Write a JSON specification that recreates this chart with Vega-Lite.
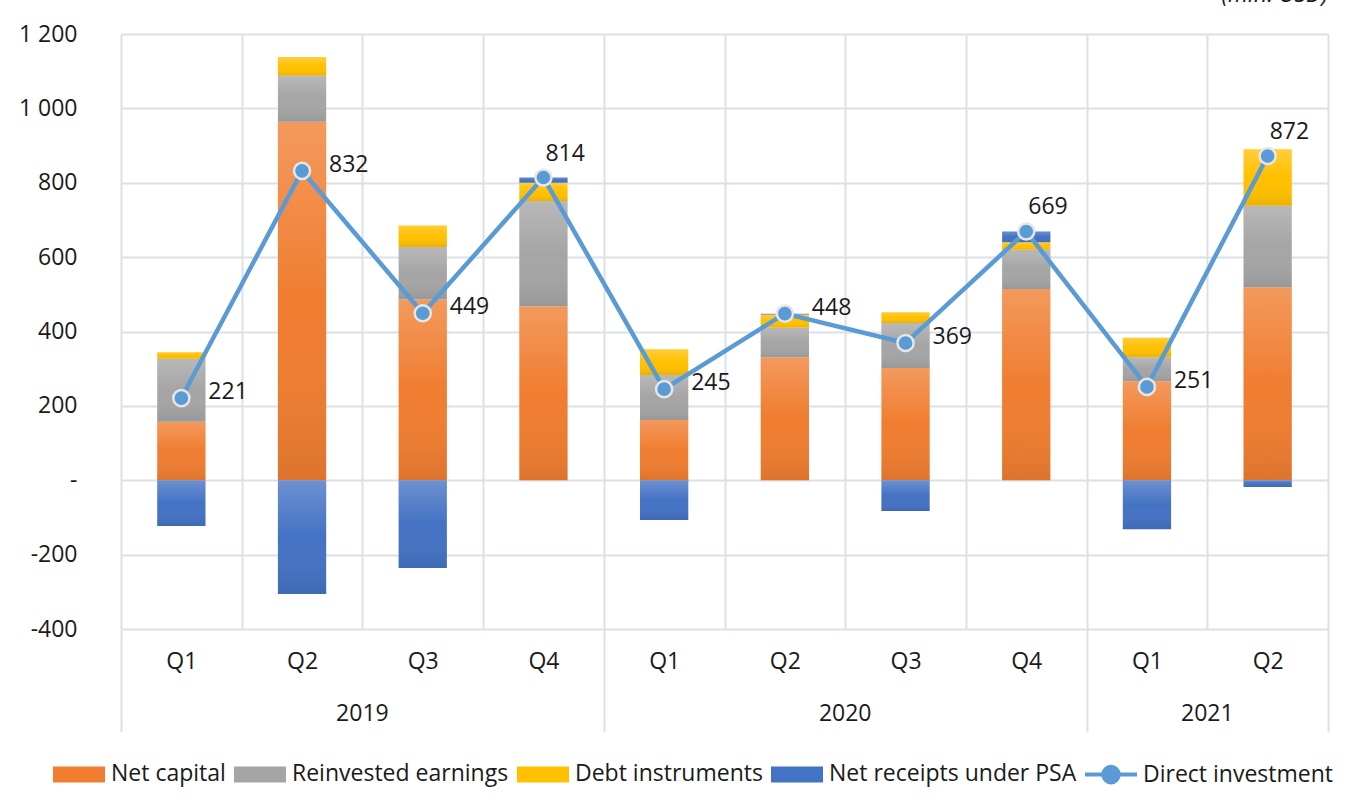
{
  "$schema": "https://vega.github.io/schema/vega-lite/v6.json",
  "width": 1207,
  "height": 595,
  "autosize": {"type": "none"},
  "padding": {"left": 121, "top": 34, "right": 40, "bottom": 182},
  "background": "white",
  "title": {
    "text": "(mln. USD)",
    "anchor": "end",
    "frame": "group",
    "font": "Open Sans",
    "fontSize": 23,
    "fontStyle": "italic",
    "fontWeight": "normal",
    "color": "#1a1a1a",
    "baseline": "alphabetic",
    "offset": 15,
    "dy": 17
  },
  "config": {
    "font": "Open Sans",
    "view": {"stroke": null}
  },
  "datasets": {
    "parts": [
      {"period": "2019 Q1", "component": "Net capital", "value": 157},
      {"period": "2019 Q1", "component": "Reinvested earnings", "value": 170},
      {"period": "2019 Q1", "component": "Debt instruments", "value": 17},
      {"period": "2019 Q1", "component": "Net receipts under PSA", "value": -123},
      {"period": "2019 Q2", "component": "Net capital", "value": 964},
      {"period": "2019 Q2", "component": "Reinvested earnings", "value": 124},
      {"period": "2019 Q2", "component": "Debt instruments", "value": 50},
      {"period": "2019 Q2", "component": "Net receipts under PSA", "value": -306},
      {"period": "2019 Q3", "component": "Net capital", "value": 486},
      {"period": "2019 Q3", "component": "Reinvested earnings", "value": 141},
      {"period": "2019 Q3", "component": "Debt instruments", "value": 58},
      {"period": "2019 Q3", "component": "Net receipts under PSA", "value": -236},
      {"period": "2019 Q4", "component": "Net capital", "value": 468},
      {"period": "2019 Q4", "component": "Reinvested earnings", "value": 283},
      {"period": "2019 Q4", "component": "Debt instruments", "value": 49},
      {"period": "2019 Q4", "component": "Net receipts under PSA", "value": 14},
      {"period": "2020 Q1", "component": "Net capital", "value": 162},
      {"period": "2020 Q1", "component": "Reinvested earnings", "value": 121},
      {"period": "2020 Q1", "component": "Debt instruments", "value": 69},
      {"period": "2020 Q1", "component": "Net receipts under PSA", "value": -107},
      {"period": "2020 Q2", "component": "Net capital", "value": 331},
      {"period": "2020 Q2", "component": "Reinvested earnings", "value": 79},
      {"period": "2020 Q2", "component": "Debt instruments", "value": 36},
      {"period": "2020 Q2", "component": "Net receipts under PSA", "value": 2},
      {"period": "2020 Q3", "component": "Net capital", "value": 302},
      {"period": "2020 Q3", "component": "Reinvested earnings", "value": 121},
      {"period": "2020 Q3", "component": "Debt instruments", "value": 29},
      {"period": "2020 Q3", "component": "Net receipts under PSA", "value": -83},
      {"period": "2020 Q4", "component": "Net capital", "value": 514},
      {"period": "2020 Q4", "component": "Reinvested earnings", "value": 106},
      {"period": "2020 Q4", "component": "Debt instruments", "value": 20},
      {"period": "2020 Q4", "component": "Net receipts under PSA", "value": 29},
      {"period": "2021 Q1", "component": "Net capital", "value": 266},
      {"period": "2021 Q1", "component": "Reinvested earnings", "value": 65},
      {"period": "2021 Q1", "component": "Debt instruments", "value": 52},
      {"period": "2021 Q1", "component": "Net receipts under PSA", "value": -132},
      {"period": "2021 Q2", "component": "Net capital", "value": 519},
      {"period": "2021 Q2", "component": "Reinvested earnings", "value": 219},
      {"period": "2021 Q2", "component": "Debt instruments", "value": 152},
      {"period": "2021 Q2", "component": "Net receipts under PSA", "value": -18}
    ],
    "total": [
      {"period": "2019 Q1", "value": 221},
      {"period": "2019 Q2", "value": 832},
      {"period": "2019 Q3", "value": 449},
      {"period": "2019 Q4", "value": 814},
      {"period": "2020 Q1", "value": 245},
      {"period": "2020 Q2", "value": 448},
      {"period": "2020 Q3", "value": 369},
      {"period": "2020 Q4", "value": 669},
      {"period": "2021 Q1", "value": 251},
      {"period": "2021 Q2", "value": 872}
    ]
  },
  "layer": [
    {
      "data": {"name": "parts"},
      "transform": [
        {"calculate": "indexof(['Net capital','Reinvested earnings','Debt instruments','Net receipts under PSA'], datum.component)", "as": "k"}
      ],
      "mark": {"type": "bar", "width": {"band": 0.4}},
      "encoding": {
        "x": {
          "field": "period",
          "type": "nominal",
          "sort": null,
          "scale": {
            "domain": ["2019 Q1","2019 Q2","2019 Q3","2019 Q4","2020 Q1","2020 Q2","2020 Q3","2020 Q4","2021 Q1","2021 Q2"],
            "paddingInner": 0,
            "paddingOuter": 0
          },
          "axis": {
            "orient": "bottom",
            "title": null,
            "labelExpr": "split(datum.label, ' ')[1]",
            "labelAngle": 0,
            "labelFont": "Open Sans",
            "labelFontSize": 23,
            "labelColor": "#1a1a1a",
            "labelPadding": -82,
            "labelOverlap": false,
            "tickBand": "extent",
            "grid": true,
            "gridColor": "#DCE0E7",
            "gridWidth": 2,
            "domain": false,
            "ticks": true,
            "tickSize": 103,
            "tickColor": "#DCE0E7",
            "tickWidth": 2,
            "tickOpacity": {
              "condition": {"test": "indexof(['2019 Q4','2020 Q4','2021 Q2'], datum.value) >= 0 || datum.extra", "value": 1},
              "value": 0
            }
          }
        },
        "y": {
          "field": "value",
          "type": "quantitative",
          "stack": "zero",
          "scale": {"domain": [-400, 1200], "nice": false, "zero": false},
          "axis": {
            "title": null,
            "values": [-400, -200, 0, 200, 400, 600, 800, 1000, 1200],
            "labelExpr": "datum.value == 0 ? '-\u00a0\u00a0\u00a0\u00a0\u00a0' : replace(replace(format(datum.value, ','), ',', ' '), '\u2212', '-')",
            "labelFont": "Open Sans",
            "labelFontSize": 23,
            "labelColor": "#1a1a1a",
            "labelPadding": 44,
            "grid": true,
            "gridColor": "#DCE0E7",
            "gridWidth": 2,
            "domain": false,
            "ticks": false
          }
        },
        "color": {
          "field": "component",
          "type": "nominal",
          "scale": {
            "domain": ["Net capital", "Reinvested earnings", "Debt instruments", "Net receipts under PSA", "Direct investment"],
            "range": ["#F07D30", "#A5A5A5", "#FFC000", "#4472C4", "#5B9BD5"]
          },
          "legend": {
            "orient": "none",
            "legendX": -70,
            "legendY": 712,
            "direction": "horizontal",
            "title": null,
            "padding": 0,
            "labelFont": "Open Sans",
            "labelFontSize": 23,
            "labelColor": "#1a1a1a",
            "labelLimit": 0,
            "labelOffset": 4,
            "columnPadding": 0,
            "symbolSize": 2704,
            "symbolType": "M-1,-0.3077H1V0.3077H-1Z",
            "symbolStrokeWidth": 0,
            "encode": {
              "symbols": {
                "update": {
                  "shape": {"signal": "datum.value === 'Direct investment' ? 'M-1,0H1M0.3,0A0.3,0.3,0,1,1,-0.3,0A0.3,0.3,0,1,1,0.3,0Z' : 'M-1,-0.3077H1V0.3077H-1Z'"},
                  "stroke": {"signal": "datum.value === 'Direct investment' ? '#5B9BD5' : 'transparent'"},
                  "strokeWidth": {"value": 4}
                }
              }
            }
          }
        },
        "order": {"field": "k", "type": "quantitative"}
      }
    },
    {
      "data": {"name": "parts"},
      "transform": [
        {"calculate": "indexof(['Net capital','Reinvested earnings','Debt instruments','Net receipts under PSA'], datum.component)", "as": "k"}
      ],
      "mark": {
        "type": "bar",
        "width": {"band": 0.4},
        "color": {"gradient": "linear", "x1": 0, "y1": 0, "x2": 0, "y2": 1, "stops": [{"offset": 0, "color": "rgba(255,255,255,0.22)"}, {"offset": 0.5, "color": "rgba(255,255,255,0)"}, {"offset": 1, "color": "rgba(0,0,0,0.08)"}]}
      },
      "encoding": {
        "x": {"field": "period", "type": "nominal", "sort": null, "axis": null},
        "y": {"field": "value", "type": "quantitative", "stack": "zero"},
        "detail": {"field": "component", "type": "nominal"},
        "order": {"field": "k", "type": "quantitative"}
      }
    },
    {
      "data": {"name": "total"},
      "mark": {"type": "line", "color": "#5B9BD5", "strokeWidth": 4.5},
      "encoding": {
        "x": {
          "field": "period",
          "type": "nominal",
          "sort": null,
          "axis": {
            "orient": "bottom",
            "title": null,
            "labelExpr": "datum.value == '2019 Q2' ? '2019' : datum.value == '2020 Q2' ? '2020' : datum.value == '2021 Q1' ? '2021' : ''",
            "labelAngle": 0,
            "labelFont": "Open Sans",
            "labelFontSize": 23,
            "labelColor": "#1a1a1a",
            "labelPadding": 73,
            "labelOffset": 60.35,
            "labelOverlap": false,
            "grid": false,
            "domain": false,
            "ticks": false
          }
        },
        "y": {"field": "value", "type": "quantitative"}
      }
    },
    {
      "data": {"name": "total"},
      "mark": {"type": "point", "filled": true, "fill": "#5B9BD5", "stroke": "#E6E6E6", "strokeWidth": 2.5, "size": 260, "opacity": 1},
      "encoding": {
        "x": {"field": "period", "type": "nominal", "sort": null, "axis": null},
        "y": {"field": "value", "type": "quantitative"}
      }
    },
    {
      "data": {"name": "total"},
      "transform": [{"filter": "indexof(['2019 Q4','2020 Q4','2021 Q2'], datum.period) < 0"}],
      "mark": {"type": "text", "align": "left", "baseline": "middle", "dx": 27, "dy": -6, "font": "Open Sans", "fontSize": 23, "color": "#1a1a1a"},
      "encoding": {
        "x": {"field": "period", "type": "nominal", "sort": null, "axis": null},
        "y": {"field": "value", "type": "quantitative"},
        "text": {"field": "value", "type": "quantitative"}
      }
    },
    {
      "data": {"name": "total"},
      "transform": [{"filter": "indexof(['2019 Q4','2020 Q4','2021 Q2'], datum.period) >= 0"}],
      "mark": {"type": "text", "align": "left", "baseline": "middle", "dx": 2, "dy": -24, "font": "Open Sans", "fontSize": 23, "color": "#1a1a1a"},
      "encoding": {
        "x": {"field": "period", "type": "nominal", "sort": null, "axis": null},
        "y": {"field": "value", "type": "quantitative"},
        "text": {"field": "value", "type": "quantitative"}
      }
    }
  ],
  "resolve": {"axis": {"x": "independent"}}
}
